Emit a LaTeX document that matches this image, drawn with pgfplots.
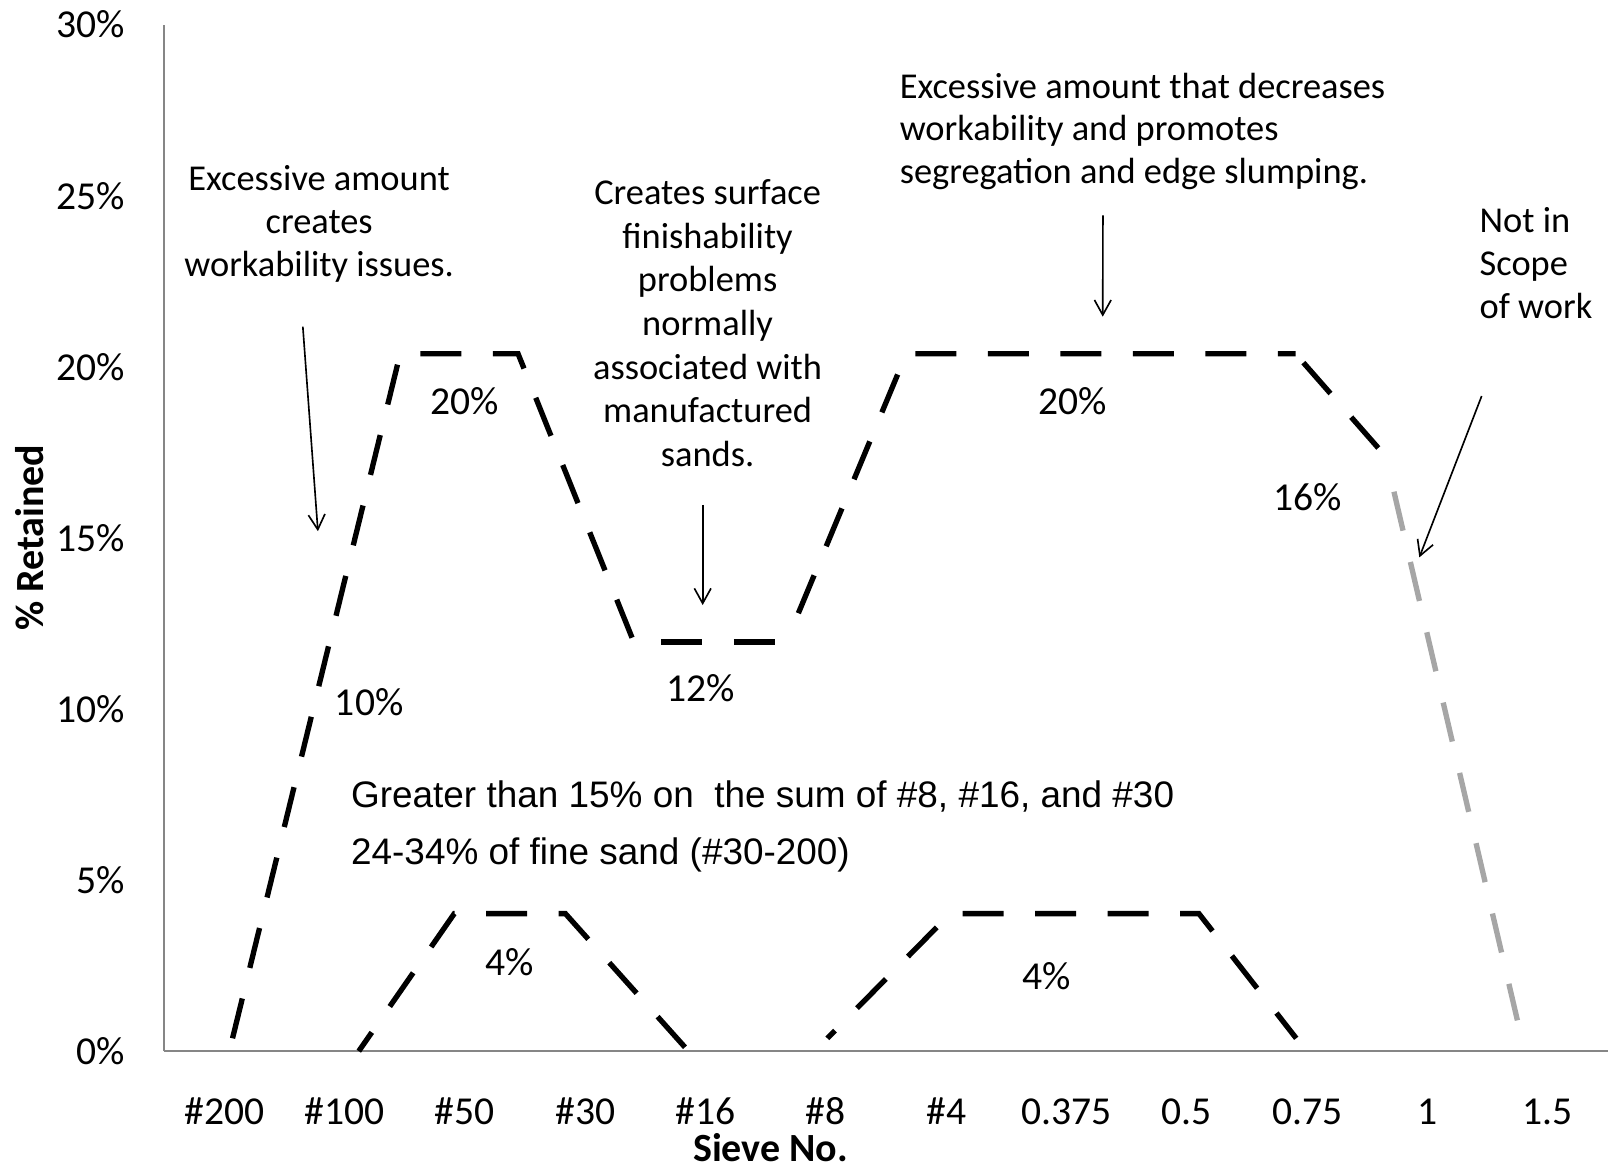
\documentclass[border=0pt]{standalone}
\usepackage{fontspec}
\setmainfont{Carlito}
\newfontfamily\arialfont{Liberation Sans}
\usepackage{pgfplots}
\pgfplotsset{compat=1.18}
\usetikzlibrary{arrows.meta}
\definecolor{axisgray}{RGB}{134,134,134}
\definecolor{linegray}{RGB}{166,166,166}
\newcommand\tickfont{\fontsize{19.3}{23}\selectfont}
\newcommand\annfont{\fontsize{17.75}{21}\selectfont}
\newcommand\titlefont{\fontsize{19.5}{23}\selectfont\bfseries}
\newcommand\boxfont{\arialfont\fontsize{18}{22}\selectfont}

\begin{document}
\begin{tikzpicture}
\begin{axis}[
  at={(0,0)}, anchor=south west,
  scale only axis, width=704pt, height=500.5pt,
  xmin=-0.5, xmax=11.5, ymin=0, ymax=30,
  axis x line=bottom, axis y line=left,
  axis line style={draw=axisgray, line width=1pt, -},
  xtick={0,...,11},
  xticklabels={\#200,\#100,\#50,\#30,\#16,\#8,\#4,0.375,0.5,0.75,1,1.5},
  ytick={0,5,...,30},
  yticklabels={0\%,5\%,10\%,15\%,20\%,25\%,30\%},
  major tick length=0pt,
  xticklabel style={font=\tickfont, anchor=base, inner sep=0pt, yshift=-36pt},
  yticklabel style={font=\tickfont, anchor=east, inner sep=0pt, xshift=-19pt},
  clip=false,
  no markers,
]
% upper limit line (black part), drawn piece by piece
\addplot[black, line width=2.6pt, dash pattern=on 20pt off 15.35pt] coordinates {
  (0.069,0.375) (1.462,20.38) (2.442,20.38) (3.403,11.96)
};
\addplot[black, line width=2.6pt, dash pattern=on 20pt off 15.35pt, dash phase=21.85pt] coordinates {
  (3.403,11.96) (4.672,11.96)
};
\addplot[black, line width=2.6pt, dash pattern=on 20pt off 15.35pt, dash phase=20.2pt] coordinates {
  (4.672,11.96) (5.668,20.38) (8.904,20.38)
};
\addplot[black, line width=2.6pt, dash pattern=on 20pt off 15.35pt, dash phase=29.6pt] coordinates {
  (8.904,20.38) (9.595,17.61)
};
% upper limit line (grey part, not in scope)
\addplot[linegray, line width=2.6pt, dash pattern=on 19.5pt off 15.7pt] coordinates {
  (9.721,16.35) (10.747,0.90)
};
% lower limit, fine part
\addplot[black, line width=2.6pt, dash pattern=on 20pt off 15.35pt, dash phase=8.85pt] coordinates {
  (1.118,0) (1.912,4.02) (2.835,4.02) (3.858,0)
};
% lower limit, coarse part
\addplot[black, line width=2.6pt, dash pattern=on 20pt off 15.35pt, dash phase=14.7pt] coordinates {
  (5.012,0.375) (6.034,4.02) (8.100,4.02) (8.909,0.375)
};
\end{axis}

\begin{scope}[shift={(-80pt,512.5pt)}, x=0.5pt, y=-0.5pt, every node/.style={inner sep=0pt}]
% axis titles
\node[font=\titlefont, anchor=base] at (751.5,1132.5) {Sieve No.};
\node[font=\titlefont, rotate=90, anchor=base] at (42.7,524.5) {\% Retained};
% value labels
\node[font=\tickfont, anchor=base] at (453,404) {20\%};
\node[font=\tickfont, anchor=base] at (360,698) {10\%};
\node[font=\tickfont, anchor=base] at (683,684) {12\%};
\node[font=\tickfont, anchor=base] at (1046,404) {20\%};
\node[font=\tickfont, anchor=base] at (1275,498) {16\%};
\node[font=\tickfont, anchor=base] at (497,951) {4\%};
\node[font=\tickfont, anchor=base] at (1021,965) {4\%};
% annotation 1
\node[font=\annfont, anchor=base] at (311.2,186) {Excessive amount};
\node[font=\annfont, anchor=base] at (311.2,227.5) {creates};
\node[font=\annfont, anchor=base] at (311.2,269.8) {workability issues.};
% annotation 2
\node[font=\annfont, anchor=base] at (690,199.4) {Creates surface};
\node[font=\annfont, anchor=base] at (690,242) {finishability};
\node[font=\annfont, anchor=base] at (690,284.6) {problems};
\node[font=\annfont, anchor=base] at (690,327.2) {normally};
\node[font=\annfont, anchor=base] at (690,369.8) {associated with};
\node[font=\annfont, anchor=base] at (690,412.4) {manufactured};
\node[font=\annfont, anchor=base] at (690,455) {sands.};
% annotation 3
\node[font=\annfont, anchor=base west] at (877,95.9) {Excessive amount that decreases};
\node[font=\annfont, anchor=base west] at (877,137.5) {workability and promotes};
\node[font=\annfont, anchor=base west] at (877,178.8) {segregation and edge slumping.};
% annotation 4
\node[font=\annfont, anchor=base west] at (1442.5,226.6) {Not in};
\node[font=\annfont, anchor=base west] at (1442.5,269.1) {Scope};
\node[font=\annfont, anchor=base west] at (1442.5,310.4) {of work};
% text box
\node[font=\boxfont, anchor=base west] at (342,787) {Greater than 15\% on\ \ the sum of \#8, \#16, and \#30};
\node[font=\boxfont, anchor=base west] at (342,843) {24-34\% of fine sand (\#30-200)};
% arrows
\begin{scope}[line width=0.8pt, -{Straight Barb[length=7.3pt,width=8.1pt]}]
\draw (295.3,318.5) -- (310,518);
\draw (685.2,492.4) -- (685.2,590);
\draw (1075.5,210) -- (1075.3,308.8);
\draw (1444.8,386.2) -- (1384,543.5);
\end{scope}
\end{scope}
\pgfresetboundingbox
\useasboundingbox (-80pt,-58pt) rectangle (704pt,512.5pt);
\end{tikzpicture}
\end{document}
